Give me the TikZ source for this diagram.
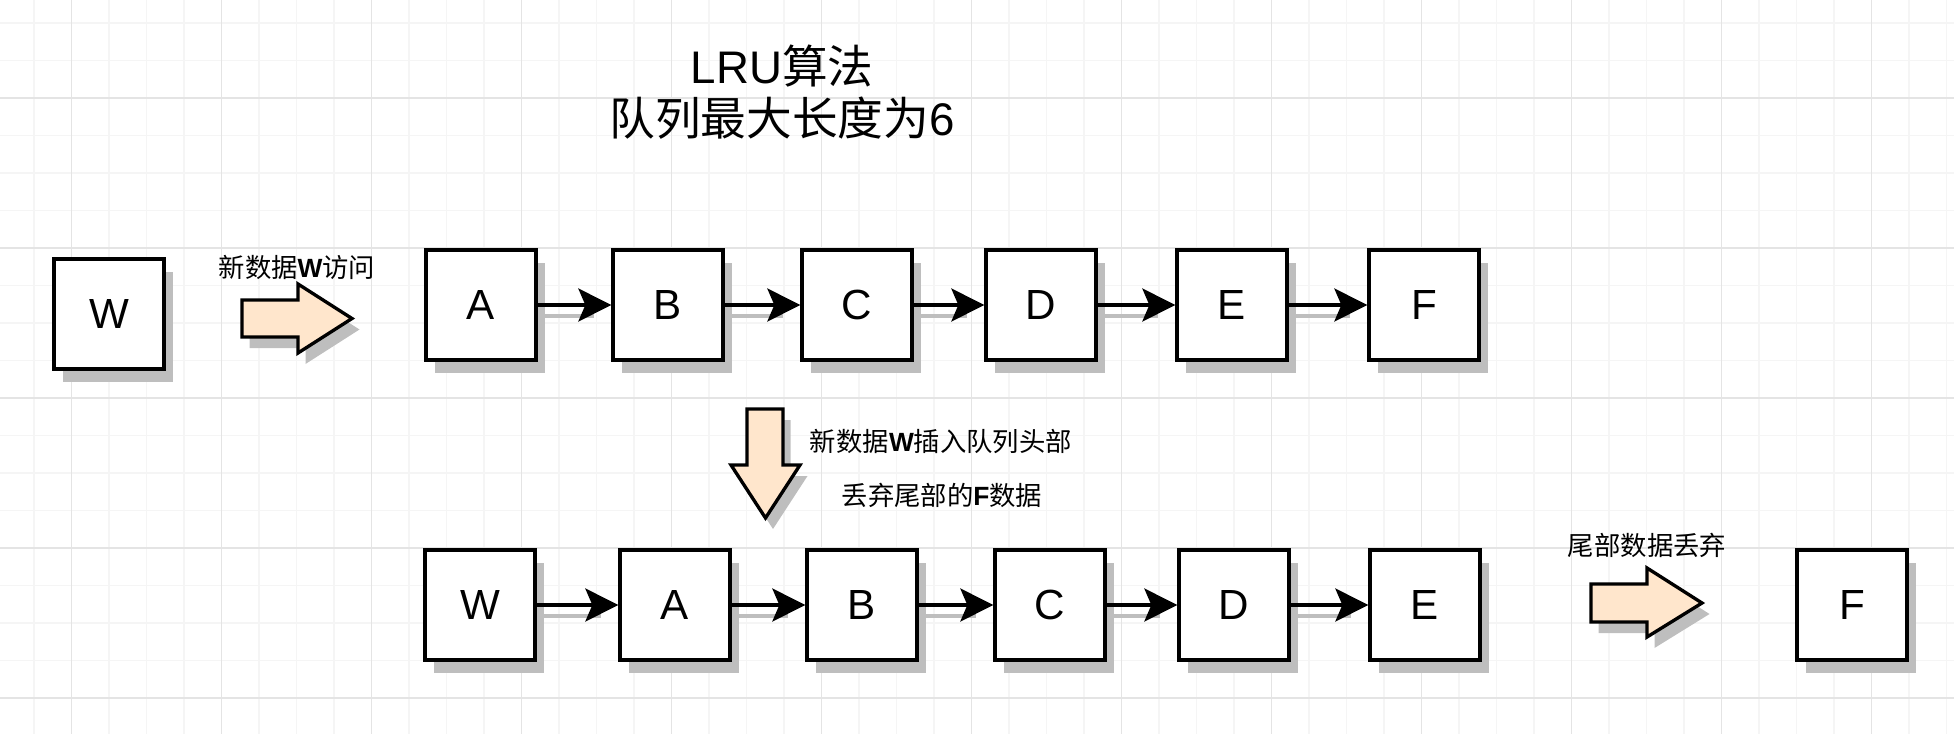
\documentclass[tikz,border=0pt]{standalone}
\usepackage{fontspec}
\setmainfont{Liberation Sans}
\newfontfamily\cjk{Noto Sans CJK SC}
\usetikzlibrary{arrows.meta, shadows}

\definecolor{shadowgray}{RGB}{190,190,190}
\definecolor{peach}{RGB}{255,230,204}
\definecolor{minorline}{RGB}{245,245,245}
\definecolor{majorline}{RGB}{228,228,228}

\tikzset{
  box/.style={draw, line width=1.9pt, fill=white, minimum width=2.2cm, minimum height=2.2cm,
    inner sep=0pt, font=\fontsize{24}{28}\selectfont,
    drop shadow={shadow xshift=0.18cm, shadow yshift=-0.26cm, fill=shadowgray, opacity=1}},
  link/.style={line width=1.9pt, -{Stealth[length=0.66cm, width=0.66cm, inset=0.14cm]}},
  linkshadow/.style={line width=1.9pt, shadowgray},
  bigarrow/.style={draw, line width=1.9pt, fill=peach, line join=miter},
  bigshadow/.style={fill=shadowgray, xshift=0.15cm, yshift=-0.22cm},
  note/.style={font=\fontsize{15}{18}\selectfont}
}

\begin{document}
\begin{tikzpicture}[x=0.02cm, y=-0.02cm]
    \useasboundingbox (0,0) rectangle (1954,734);

    % 背景の格子
    \foreach \i in {0,...,52} \draw[minorline, line width=0.6pt] ({-3.5+37.5*\i},0) -- ++(0,734);
    \foreach \i in {0,...,18} \draw[minorline, line width=0.6pt] (0,{23+37.5*\i}) -- ++(1954,0);
    \foreach \i in {0,...,12} \draw[majorline, line width=0.6pt] ({71.5+150*\i},0) -- ++(0,734);
    \foreach \i in {0,...,4} \draw[majorline, line width=0.6pt] (0,{98+150*\i}) -- ++(1954,0);

    % タイトル
    \node[align=center, font=\fontsize{26}{30}\selectfont] (title) at (782, 92)
      {LRU{\cjk 算法}\\{\cjk 队列最大长度为}6};

    % 上の列
    \node[box] (W0) at (109, 314) {W};
    \node[box] (A) at (481, 305) {A};
    \node[box] (B) at (668, 305) {B};
    \node[box] (C) at (857, 305) {C};
    \node[box] (D) at (1041, 305) {D};
    \node[box] (E) at (1232, 305) {E};
    \node[box] (F) at (1424, 305) {F};

    % 下の列
    \node[box] (W2) at (480, 605) {W};
    \node[box] (A2) at (675, 605) {A};
    \node[box] (B2) at (862, 605) {B};
    \node[box] (C2) at (1050, 605) {C};
    \node[box] (D2) at (1234, 605) {D};
    \node[box] (E2) at (1425, 605) {E};
    \node[box] (F2) at (1852, 605) {F};

    % 線を引く
    \foreach \a/\b in {A/B, B/C, C/D, D/E, E/F, W2/A2, A2/B2, B2/C2, C2/D2, D2/E2} {
      \draw[linkshadow] ([xshift=0.15cm, yshift=-0.22cm]\a.east) -- ([xshift=-0.34cm, yshift=-0.22cm]\b.west);
      \draw[link] (\a) -- (\b);
    }

    % 太い矢印
    \fill[bigshadow] (242,300) -- (298,300) -- (298,284) -- (352,318.5) -- (298,353) -- (298,337) -- (242,337) -- cycle;
    \path[bigarrow] (242,300) -- (298,300) -- (298,284) -- (352,318.5) -- (298,353) -- (298,337) -- (242,337) -- cycle;

    \fill[bigshadow] (747,409) -- (783,409) -- (783,465) -- (800,465) -- (765.5,518) -- (731,465) -- (747,465) -- cycle;
    \path[bigarrow] (747,409) -- (783,409) -- (783,465) -- (800,465) -- (765.5,518) -- (731,465) -- (747,465) -- cycle;

    \fill[bigshadow] (1591,584) -- (1647,584) -- (1647,568) -- (1702,603) -- (1647,637) -- (1647,622) -- (1591,622) -- cycle;
    \path[bigarrow] (1591,584) -- (1647,584) -- (1647,568) -- (1702,603) -- (1647,637) -- (1647,622) -- (1591,622) -- cycle;

    % 説明
    \node[note] (visit) at (297, 267) {{\cjk 新数据}\textbf{W}{\cjk 访问}};
    \node[note] (insert) at (941, 441) {{\cjk 新数据}\textbf{W}{\cjk 插入队列头部}};
    \node[note] (drop) at (942, 495) {{\cjk 丢弃尾部的}\textbf{F}{\cjk 数据}};
    \node[note] (tail) at (1647, 545) {{\cjk 尾部数据丢弃}};

\end{tikzpicture}
\end{document}
